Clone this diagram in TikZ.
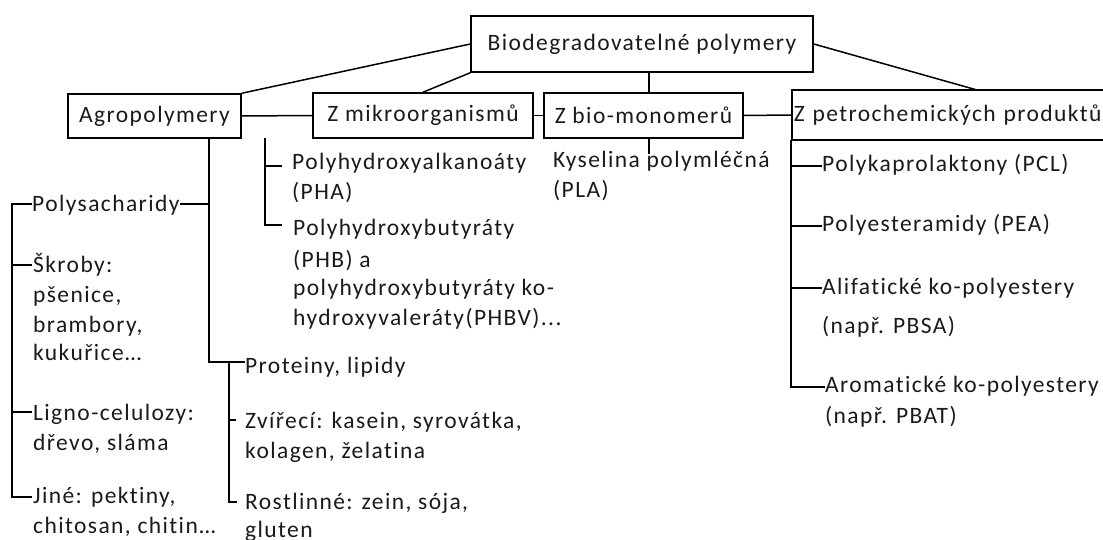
\documentclass[tikz,border=0pt]{standalone}
\usepackage{fontspec}
\setmainfont{Carlito}[LetterSpace=6,Ligatures=NoCommon]
\usetikzlibrary{calc}
\definecolor{txt}{HTML}{1A1A1A}
\tikzset{
  box/.style={draw=black, line width=1.5pt, inner sep=0pt, text=txt, font=\fontsize{23.5}{30}\selectfont},
  lbl/.style={anchor=base west, inner sep=0pt, align=left, text=txt, font=\fontsize{23.5}{30}\selectfont},
  ln/.style={draw=black, line width=1.5pt},
}
\begin{document}
\begin{tikzpicture}[x=1pt,y=-1pt]
\useasboundingbox (0,0) rectangle (1103,540);
% boxes
\node[box, minimum width=342pt, minimum height=56pt] (top) at (642,44) {Biodegradovatelné polymery};
\node[box, minimum width=173pt, minimum height=44pt] (agro) at (154.5,116) {Agropolymery};
\node[box, minimum width=220pt, minimum height=45pt] (mikro) at (423,115.5) {Z mikroorganismů};
\node[box, minimum width=199pt, minimum height=45pt] (bio) at (643.5,115.5) {Z bio-monomerů};
\node[box, anchor=west, minimum width=330pt, minimum height=50pt, text width=326pt, align=left] (petro) at (791,115) {Z petrochemických produktů};
% labels (anchored at the baseline of their last line)
\node[lbl] (pha) at (292,200) {Polyhydroxyalkanoáty\\(PHA)};
\node[lbl] (phb) at (293,325) {Polyhydroxybutyráty\\[2pt](PHB) a\\[-2pt]polyhydroxybutyráty ko-\\hydroxyvaleráty(PHBV)...};
\node[lbl] (pla) at (553,198) {Kyselina polymléčná\\(PLA)};
\node[lbl] (pcl) at (822,172) {Polykaprolaktony (PCL)};
\node[lbl] (pea) at (822,232) {Polyesteramidy (PEA)};
\node[lbl] (alif) at (822,333) {Alifatické ko-polyestery\\[9pt](např. PBSA)};
\node[lbl] (arom) at (825,423) {Aromatické ko-polyestery\\[1pt](např. PBAT)};
\node[lbl] (poly) at (32,212) {Polysacharidy};
\node[lbl] (skrob) at (33,360) {Škroby:\\pšenice,\\brambory,\\[-2pt]kukuřice…};
\node[lbl] (ligno) at (33,450) {Ligno-celulozy:\\dřevo, sláma};
\node[lbl] (jine) at (33,533) {Jiné: pektiny,\\chitosan, chitin…};
\node[lbl] (prot) at (245,373) {Proteiny, lipidy};
\node[lbl] (zvir) at (245,458) {Zvířecí: kasein, syrovátka,\\kolagen, želatina};
\node[lbl] (rost) at (245,537) {Rostlinné: zein, sója,\\[-2pt]gluten};
% coordinates
\coordinate (petroN) at (977,90);
\coordinate (plaT) at (649,154);
\coordinate (mA) at (265,138);
\coordinate (mB) at (265,225);
\coordinate (mPHA) at (265,166);
\coordinate (ePHA) at (282,166);
\coordinate (ePHB) at (282,225);
\coordinate (aB) at (209,362);
\coordinate (aP) at (209,204);
\coordinate (pL) at (12,204);
\coordinate (pB) at (12,497);
\coordinate (pS) at (12,265);
\coordinate (pLg) at (12,412);
\coordinate (eS) at (32,265);
\coordinate (eLg) at (32,412);
\coordinate (eJ) at (32,497);
\coordinate (ePoly) at (32,204);
\coordinate (eProt) at (245,362);
\coordinate (rA) at (229,362);
\coordinate (rB) at (229,502);
\coordinate (rZ) at (229,420);
\coordinate (eZ) at (236,420);
\coordinate (eR) at (237,502);
\coordinate (qA) at (791,140);
\coordinate (qB) at (791,387);
\coordinate (q1) at (791,166);
\coordinate (q2) at (791,226);
\coordinate (q3) at (791,288);
\coordinate (e1) at (822,166);
\coordinate (e2) at (822,226);
\coordinate (e3) at (822,288);
\coordinate (e4) at (825,387);
% top connectors
\draw[ln] (top.west) -- (agro.north east);
\draw[ln] (top.south west) -- (mikro.north);
\draw[ln] (bio.north -| plaT) -- (top.south -| plaT);
\draw[ln] (top.east) -- (petroN);
\draw[ln] (agro.east) -- (mikro.west);
\draw[ln] (mikro.east) -- (bio.west);
\draw[ln] (bio.east) -- (petro.west);
\draw[ln] (bio.south -| plaT) -- (plaT);
% mikro subtree
\draw[ln] (mA) -- (mB) -- (ePHB);
\draw[ln] (mPHA) -- (ePHA);
% agro subtree
\draw[ln] (agro.south -| aB) -- (aB) -- (eProt);
\draw[ln] (aP) -- (aP -| poly.east);
\draw[ln] (ePoly) -- (pL) -- (pB) -- (eJ);
\draw[ln] (pS) -- (eS);
\draw[ln] (pLg) -- (eLg);
\draw[ln] (rA) -- (rB) -- (eR);
\draw[ln] (rZ) -- (eZ);
% petro subtree
\draw[ln] (qA) -- (qB) -- (e4);
\draw[ln] (q1) -- (e1);
\draw[ln] (q2) -- (e2);
\draw[ln] (q3) -- (e3);
\end{tikzpicture}
\end{document}
